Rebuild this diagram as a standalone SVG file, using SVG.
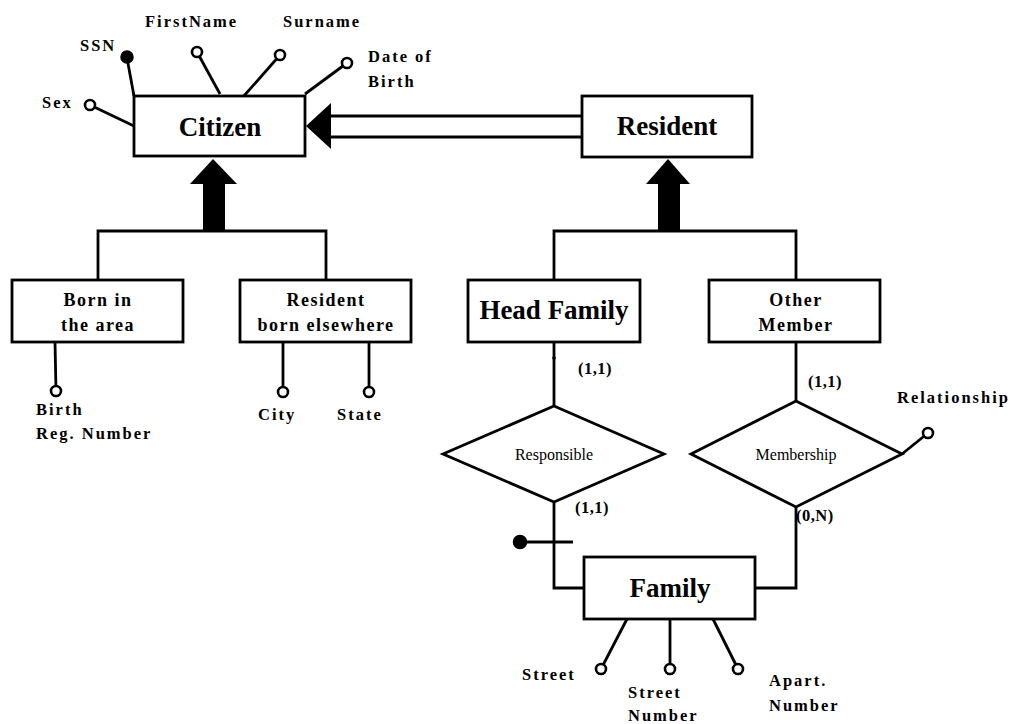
<svg xmlns="http://www.w3.org/2000/svg" width="1011" height="724" viewBox="0 0 1011 724">
<style>
.box{fill:#fff;stroke:#000;stroke-width:2.8}
.ln{fill:none;stroke:#000;stroke-width:2.8}
.oc{fill:#fff;stroke:#000;stroke-width:2.6}
.fc{fill:#000;stroke:#000;stroke-width:1.5}
.big{font-family:"Liberation Serif",serif;font-weight:bold;font-size:27px;text-anchor:middle}
.mid{font-family:"Liberation Serif",serif;font-weight:bold;font-size:18px;letter-spacing:1.5px;text-anchor:middle}
.lab{font-family:"Liberation Serif",serif;font-weight:bold;font-size:16.5px;letter-spacing:2px}
.card{font-family:"Liberation Serif",serif;font-weight:bold;font-size:16.5px;letter-spacing:0.5px}
.rel{font-family:"Liberation Serif",serif;font-size:16px;text-anchor:middle}
</style>
<rect width="1011" height="724" fill="#fff"/>
<g id="connectors">
  <line class="ln" x1="331" y1="116" x2="582" y2="116"/>
  <line class="ln" x1="331" y1="137" x2="582" y2="137"/>
  <polygon points="306,126 331,103 331,149" fill="#000"/>
  <polygon points="213,159 190,184 237,184" fill="#000"/>
  <rect x="203" y="183" width="22" height="48" fill="#000"/>
  <polyline class="ln" points="98,280 98,231 326,231 326,280"/>
  <polygon points="668,159 646,184 690,184" fill="#000"/>
  <rect x="658" y="183" width="22" height="48" fill="#000"/>
  <polyline class="ln" points="554,280 554,231 796,231 796,280"/>
  <line class="ln" x1="554" y1="342" x2="554" y2="406"/>
  <circle cx="554" cy="358" r="1.8" fill="#000"/>
  <line class="ln" x1="796" y1="342" x2="796" y2="401"/>
  <polyline class="ln" points="554,503 554,588 584,588"/>
  <polyline class="ln" points="796,507 796,588 755,588"/>
  <line class="ln" x1="520" y1="542" x2="573" y2="542"/>
  <circle class="fc" cx="520" cy="542" r="6.5"/>
</g>
<g id="attributes">
  <line class="ln" x1="127" y1="58" x2="134" y2="96"/>
  <circle class="fc" cx="127" cy="57" r="6"/>
  <line class="ln" x1="197" y1="52" x2="220" y2="94"/>
  <circle class="oc" cx="197" cy="52" r="5"/>
  <line class="ln" x1="280" y1="55" x2="243" y2="97"/>
  <circle class="oc" cx="280" cy="55" r="5"/>
  <line class="ln" x1="347" y1="63" x2="305" y2="94"/>
  <circle class="oc" cx="347" cy="63" r="5"/>
  <line class="ln" x1="90" y1="105" x2="134" y2="126"/>
  <circle class="oc" cx="90" cy="105" r="5"/>
  <line class="ln" x1="55" y1="342" x2="56" y2="391"/>
  <circle class="oc" cx="56" cy="391" r="5"/>
  <line class="ln" x1="283" y1="342" x2="283" y2="392"/>
  <circle class="oc" cx="283" cy="392" r="5"/>
  <line class="ln" x1="369" y1="342" x2="369" y2="392"/>
  <circle class="oc" cx="369" cy="392" r="5"/>
  <line class="ln" x1="902" y1="454" x2="928" y2="433"/>
  <circle class="oc" cx="928" cy="433" r="5"/>
  <line class="ln" x1="627" y1="619" x2="601" y2="669"/>
  <circle class="oc" cx="601" cy="669" r="5"/>
  <line class="ln" x1="670" y1="619" x2="670" y2="669"/>
  <circle class="oc" cx="670" cy="669" r="5"/>
  <line class="ln" x1="713" y1="619" x2="738" y2="669"/>
  <circle class="oc" cx="738" cy="669" r="5"/>
  <text class="lab" x="80" y="51" letter-spacing="0.5">SSN</text>
  <text class="lab" x="145" y="27">FirstName</text>
  <text class="lab" x="283" y="27">Surname</text>
  <text class="lab" x="368" y="62">Date of</text>
  <text class="lab" x="368" y="87">Birth</text>
  <text class="lab" x="42" y="108" letter-spacing="1">Sex</text>
  <text class="lab" x="36" y="415">Birth</text>
  <text class="lab" x="36" y="439">Reg. Number</text>
  <text class="lab" x="258" y="420">City</text>
  <text class="lab" x="337" y="420">State</text>
  <text class="lab" x="897" y="403">Relationship</text>
  <text class="lab" x="522" y="680">Street</text>
  <text class="lab" x="628" y="698">Street</text>
  <text class="lab" x="628" y="721">Number</text>
  <text class="lab" x="769" y="686">Apart.</text>
  <text class="lab" x="769" y="711">Number</text>
  <text class="card" x="578" y="374">(1,1)</text>
  <text class="card" x="808" y="387">(1,1)</text>
  <text class="card" x="575" y="513">(1,1)</text>
  <text class="card" x="796" y="521">(0,N)</text>
</g>
<g id="citizen">
  <rect class="box" x="134" y="96" width="171" height="60"/>
  <text class="big" x="220" y="136">Citizen</text>
</g>
<g id="resident">
  <rect class="box" x="582" y="96" width="170" height="61"/>
  <text class="big" x="667" y="135" font-size="25">Resident</text>
</g>
<g id="born-in-area">
  <rect class="box" x="12" y="280" width="171" height="62"/>
  <text class="mid" x="98" y="306">Born in</text>
  <text class="mid" x="98" y="331">the area</text>
</g>
<g id="resident-born-elsewhere">
  <rect class="box" x="240" y="280" width="171" height="62"/>
  <text class="mid" x="326" y="306">Resident</text>
  <text class="mid" x="326" y="331">born elsewhere</text>
</g>
<g id="head-family">
  <rect class="box" x="468" y="280" width="172" height="62"/>
  <text class="big" x="554" y="319" font-size="25">Head Family</text>
</g>
<g id="other-member">
  <rect class="box" x="709" y="280" width="171" height="62"/>
  <text class="mid" x="796" y="306">Other</text>
  <text class="mid" x="796" y="331">Member</text>
</g>
<g id="responsible">
  <polygon class="box" points="554,406 664,454 554,502 443,454"/>
  <text class="rel" x="554" y="460">Responsible</text>
</g>
<g id="membership">
  <polygon class="box" points="796,401 902,454 796,507 691,454"/>
  <text class="rel" x="796" y="460">Membership</text>
</g>
<g id="family">
  <rect class="box" x="584" y="557" width="171" height="62"/>
  <text class="big" x="670" y="597">Family</text>
</g>
</svg>
